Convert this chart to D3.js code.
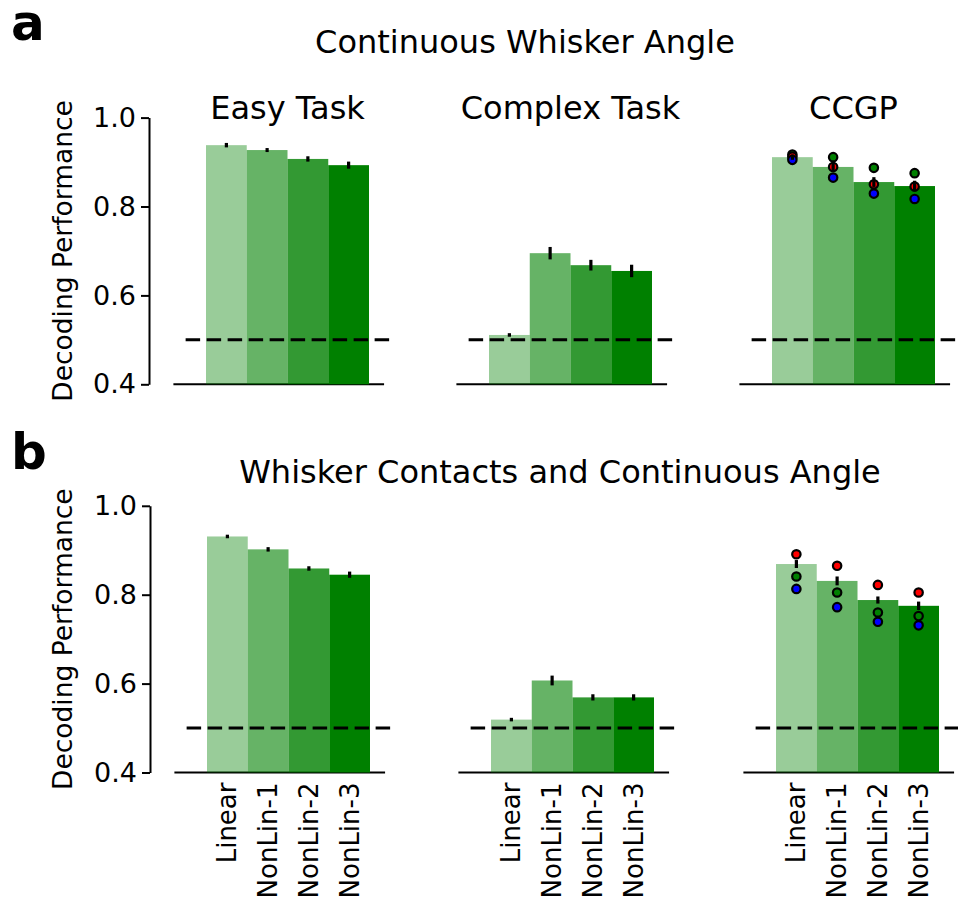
<!DOCTYPE html>
<html>
<head>
<meta charset="utf-8">
<script src="https://cdn.jsdelivr.net/npm/d3@7"></script>
<style>
  body { margin: 0; background: #fff; }
  svg { display: block; }
  text { font-family: "DejaVu Sans", sans-serif; fill: #000; }
</style>
</head>
<body>
<svg id="fig" width="958" height="901"></svg>
<script>
// ---- data ----
const models = ["Linear", "NonLin-1", "NonLin-2", "NonLin-3"];
const yTicks = [0.4, 0.6, 0.8, 1.0];
const chanceLevel = 0.5;
const panelTitles = ["Easy Task", "Complex Task", "CCGP"];
const rowTitles = ["Continuous Whisker Angle", "Whisker Contacts and Continuous Angle"];
const rowLetters = ["a", "b"];

// row a: continuous whisker angle
const angleEasy = [0.938, 0.927, 0.907, 0.893];
const angleEasyErr = [0.005, 0.0045, 0.006, 0.008];
const angleComplex = [0.511, 0.695, 0.668, 0.655];
const angleComplexErr = [0.004, 0.014, 0.012, 0.014];
const angleCCGP = [0.911, 0.889, 0.855, 0.846];
const angleCCGPErr = [0.006, 0.011, 0.011, 0.012];
const angleCCGPGreen = [0.917, 0.911, 0.887, 0.875];
const angleCCGPRed = [0.912, 0.889, 0.850, 0.845];
const angleCCGPBlue = [0.905, 0.865, 0.829, 0.817];

// row b: whisker contacts and continuous angle
const contactEasy = [0.931, 0.902, 0.859, 0.845];
const contactEasyErr = [0.004, 0.005, 0.005, 0.007];
const contactComplex = [0.519, 0.607, 0.569, 0.569];
const contactComplexErr = [0.004, 0.011, 0.007, 0.007];
const contactCCGP = [0.869, 0.831, 0.788, 0.775];
const contactCCGPErr = [0.009, 0.01, 0.008, 0.0095];
const contactCCGPGreen = [0.841, 0.805, 0.760, 0.752];
const contactCCGPRed = [0.891, 0.865, 0.822, 0.805];
const contactCCGPBlue = [0.813, 0.772, 0.739, 0.731];

// ---- layout ----
const svg = d3.select("#fig");
const barAlpha = [0.4, 0.6, 0.8, 1.0];
const barColor = "#008000";
const barUnit = 40.75;
const rows = [
  { top: 117.6, bottom: 384.3, barLefts: [206, 489, 772], titleY: 53, letterY: 40, panelTitleY: 119,
    panels: [
      { vals: angleEasy, err: angleEasyErr },
      { vals: angleComplex, err: angleComplexErr },
      { vals: angleCCGP, err: angleCCGPErr, dots: [
        { c: "#008000", v: angleCCGPGreen }, { c: "#ff0000", v: angleCCGPRed }, { c: "#0000ff", v: angleCCGPBlue }] }
    ], xlabels: false },
  { top: 505.8, bottom: 772.5, barLefts: [207, 491, 776], titleY: 483, letterY: 469,
    panels: [
      { vals: contactEasy, err: contactEasyErr },
      { vals: contactComplex, err: contactComplexErr },
      { vals: contactCCGP, err: contactCCGPErr, dots: [
        { c: "#008000", v: contactCCGPGreen }, { c: "#ff0000", v: contactCCGPRed }, { c: "#0000ff", v: contactCCGPBlue }] }
    ], xlabels: true }
];
const rowTitleX = [525, 560];

rows.forEach((row, ri) => {
  const g = svg.append("g");
  const y = d3.scaleLinear().domain([0.4, 1.0]).range([row.bottom, row.top]);

  // panel letter and row title
  g.append("text").attr("x", 11).attr("y", row.letterY)
    .attr("font-size", 50).attr("font-weight", "bold").text(rowLetters[ri]);
  g.append("text").attr("x", rowTitleX[ri]).attr("y", row.titleY)
    .attr("text-anchor", "middle").attr("font-size", 32).text(rowTitles[ri]);

  // shared y axis on the left panel
  const yAxis = d3.axisLeft(y).tickValues(yTicks).tickFormat(d3.format(".1f"))
    .tickSize(8).tickSizeOuter(0).tickPadding(5);
  const ya = g.append("g").attr("transform", `translate(${row.barLefts[0] - 57},0)`).call(yAxis);
  ya.selectAll("path,line").attr("stroke", "#000").attr("stroke-width", 2);
  ya.selectAll("text").attr("font-size", 27).attr("font-family", "DejaVu Sans");
  g.append("text")
    .attr("transform", `translate(63,${(row.top + row.bottom) / 2}) rotate(-90)`)
    .attr("text-anchor", "middle").attr("dy", "0.35em").attr("font-size", 26.5)
    .text("Decoding Performance");

  row.panels.forEach((p, pi) => {
    const left = row.barLefts[pi];
    const x = d3.scaleLinear().domain([-0.5, 3.5]).range([left, left + 4 * barUnit]);
    const pg = g.append("g");

    // x spine
    pg.append("line").attr("x1", x(-1.3)).attr("x2", x(3.87))
      .attr("y1", y(0.4)).attr("y2", y(0.4)).attr("stroke", "#000").attr("stroke-width", 2);

    // bars
    pg.selectAll("rect.bar").data(p.vals).join("rect").attr("class", "bar")
      .attr("x", (d, i) => x(i - 0.5)).attr("width", (d, i) => x(i + 0.5) - x(i - 0.5))
      .attr("y", d => y(d)).attr("height", d => y(0.4) - y(d))
      .attr("fill", barColor).attr("fill-opacity", (d, i) => barAlpha[i]);

    // chance level
    pg.append("line").attr("x1", x(-1)).attr("x2", x(4))
      .attr("y1", y(chanceLevel)).attr("y2", y(chanceLevel))
      .attr("stroke", "#000").attr("stroke-width", 3).attr("stroke-dasharray", "14.5 6.5");

    // per-condition dots
    if (p.dots) {
      p.dots.forEach(s => {
        pg.selectAll(null).data(s.v).join("circle")
          .attr("cx", (d, i) => x(i)).attr("cy", d => y(d)).attr("r", 4.2)
          .attr("fill", s.c).attr("stroke", "#000").attr("stroke-width", 2.2);
      });
    }

    // error bars
    pg.selectAll("line.err").data(p.vals).join("line").attr("class", "err")
      .attr("x1", (d, i) => x(i)).attr("x2", (d, i) => x(i))
      .attr("y1", (d, i) => y(d + p.err[i])).attr("y2", (d, i) => y(d - p.err[i]))
      .attr("stroke", "#000").attr("stroke-width", 3.2);

    // title
    if (ri === 0) {
      pg.append("text").attr("x", x(1.5)).attr("y", row.panelTitleY)
        .attr("text-anchor", "middle").attr("font-size", 32).text(panelTitles[pi]);
    }

    // rotated category labels
    if (row.xlabels) {
      pg.selectAll("text.xl").data(models).join("text").attr("class", "xl")
        .attr("transform", (d, i) => `translate(${x(i)},${y(0.4) + 10}) rotate(-90)`)
        .attr("text-anchor", "end").attr("dy", "0.35em").attr("font-size", 26)
        .text(d => d);
    }
  });
});
</script>
</body>
</html>
